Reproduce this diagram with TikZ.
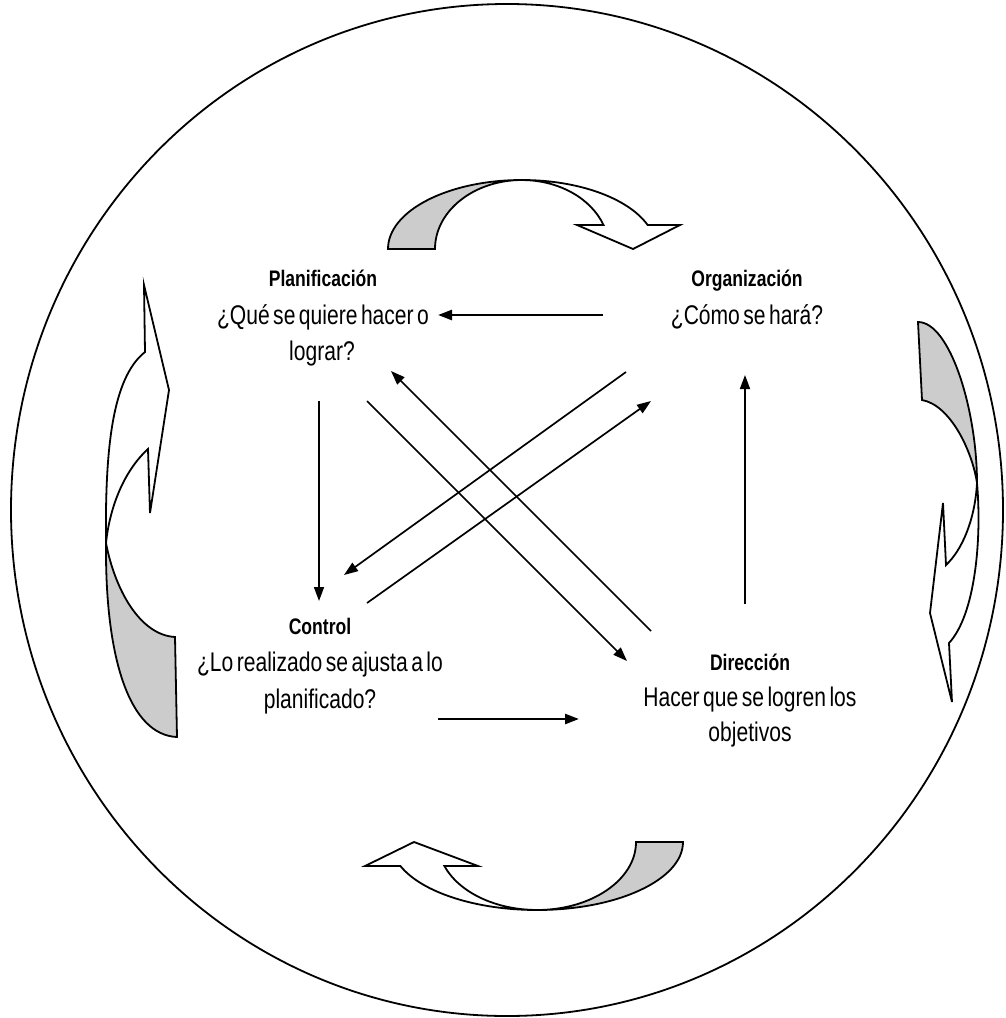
\documentclass[tikz,border=0pt]{standalone}
\usepackage{fontspec}
\setmainfont{Liberation Sans}[FakeStretch=0.78, WordSpace=0.6]
\usetikzlibrary{arrows.meta}
\begin{document}
\begin{tikzpicture}[x=1pt,y=1pt,
  txt/.style={inner sep=0pt, anchor=base, font=\fontsize{27}{31}\selectfont},
  ttl/.style={inner sep=0pt, anchor=base, font=\fontsize{22.5}{26}\selectfont\bfseries},
  arr/.style={line width=1.7pt, -{Triangle[length=14pt,width=10pt]}},
  harr/.style={line width=2.5pt, -{Triangle[length=14pt,width=10pt]}},
  band/.style={line width=1.8pt, line join=miter},
  back/.style={band, fill=black!20},
  front/.style={band, fill=white}]
\useasboundingbox (0,0) rectangle (1005,-1018);
\fill[white] (0,0) rectangle (1005,-1018);
% outer circle
\draw[line width=1.8pt] (507,-510) ellipse [x radius=496, y radius=506];

% texts
\node[ttl] (plan1) at (323,-286.5) {Planificación};
\node[txt] (plan2) at (323,-324.5) {¿Qué se quiere hacer o};
\node[txt] (plan3) at (322,-360) {lograr?};
\node[ttl] (org1) at (747,-286.5) {Organización};
\node[txt] (org2) at (747,-324.5) {¿Cómo se hará?};
\node[ttl] (ctrl1) at (320,-634.5) {Control};
\node[txt] (ctrl2) at (320,-671.5) {¿Lo realizado se ajusta a lo};
\node[txt] (ctrl3) at (320,-708.5) {planificado?};
\node[ttl] (dir1) at (750,-670) {Dirección};
\node[txt] (dir2) at (750,-706) {Hacer que se logren los};
\node[txt] (dir3) at (750,-741.5) {objetivos};

% connector end points
\coordinate (a1) at (603,-315);  \coordinate (a2) at (438,-315);
\coordinate (b1) at (319,-401);  \coordinate (b2) at (319,-601);
\coordinate (c1) at (745,-604);  \coordinate (c2) at (745,-375);
\coordinate (d1) at (438,-719);  \coordinate (d2) at (579,-719);
\coordinate (e1) at (367,-401);  \coordinate (e2) at (627,-661);
\coordinate (f1) at (651,-631);  \coordinate (f2) at (391,-371);
\coordinate (g1) at (626,-372);  \coordinate (g2) at (344,-575);
\coordinate (h1) at (367,-603);  \coordinate (h2) at (651,-401);

\draw[harr] (a1) -- (a2);
\draw[arr] (b1) -- (b2);
\draw[arr] (c1) -- (c2);
\draw[harr] (d1) -- (d2);
\draw[arr] (e1) -- (e2);
\draw[arr] (f1) -- (f2);
\draw[arr] (g1) -- (g2);
\draw[arr] (h1) -- (h2);

% top curved arrow
\draw[back] (388,-249) arc[start angle=180,end angle=90,x radius=134,y radius=69]
   arc[start angle=90,end angle=180,x radius=87,y radius=69] -- cycle;
\draw[front] (522,-180) arc[start angle=90,end angle=20.4,x radius=134,y radius=69]
   -- (680,-225) -- (633,-249) -- (577,-225) -- (603.5,-225)
   arc[start angle=20.4,end angle=90,x radius=87,y radius=69] -- cycle;

% bottom curved arrow
\draw[back] (683,-842) arc[start angle=0,end angle=-90,x radius=146,y radius=68]
   arc[start angle=-90,end angle=0,x radius=99,y radius=68] -- cycle;
\draw[front] (537,-910) arc[start angle=270,end angle=200.7,x radius=146,y radius=68]
   -- (365,-866) -- (414,-842) -- (478,-866) -- (444.4,-866)
   arc[start angle=200.7,end angle=270,x radius=99,y radius=68] -- cycle;

% left curved arrow
\draw[front] (145,-352) .. controls (112,-378) and (105,-450) .. (106,-543)
   .. controls (110,-505) and (125,-470) .. (148,-449)
   -- (150,-513) -- (169,-390) -- (144,-285) -- cycle;
\draw[back] (106,-543) .. controls (105,-660) and (130,-735) .. (177,-737)
   -- (175,-637) .. controls (140,-635) and (115,-590) .. (106,-543) -- cycle;

% right curved arrow
\draw[back] (918,-322) -- (922,-400) .. controls (950,-405) and (972,-450) .. (977,-483)
   .. controls (977,-410) and (950,-322) .. (918,-322) -- cycle;
\draw[front] (977,-483) .. controls (982,-540) and (975,-615) .. (949,-643)
   -- (952,-702) -- (930,-613) -- (943,-503) -- (946,-565)
   .. controls (962,-550) and (975,-520) .. (977,-483) -- cycle;
\end{tikzpicture}
\end{document}
